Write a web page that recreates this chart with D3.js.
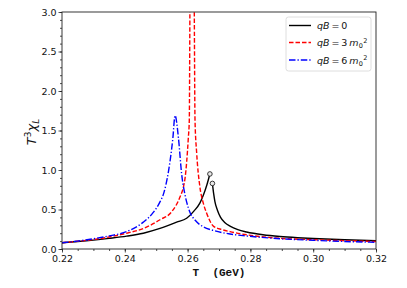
<!DOCTYPE html>
<html>
<head>
<meta charset="utf-8">
<script src="https://cdn.jsdelivr.net/npm/d3@7"></script>
<style>
  html, body { margin: 0; padding: 0; background: #fff; }
  svg { display: block; }
</style>
</head>
<body>
<svg id="chart" width="407" height="288"></svg>
<script>
// ---------- data ----------
const xTicks = [0.22, 0.24, 0.26, 0.28, 0.30, 0.32];
const yTicks = [0.0, 0.5, 1.0, 1.5, 2.0, 2.5, 3.0];

// qB = 0 : two branches (left ends / right starts at open circles)
const blackLeftT = [0.220, 0.225, 0.230, 0.235, 0.2406, 0.2459, 0.2512, 0.2565, 0.2597, 0.2620, 0.2639, 0.2650, 0.2662, 0.2671];
const blackLeftV = [0.080, 0.095, 0.113, 0.135, 0.163, 0.200, 0.260, 0.340, 0.390, 0.480, 0.580, 0.680, 0.820, 0.950];
const blackRightT = [0.2679, 0.2683, 0.2687, 0.2695, 0.2705, 0.2720, 0.2735, 0.2760, 0.2788, 0.2840, 0.2894, 0.2950, 0.3000, 0.3100, 0.3200];
const blackRightV = [0.830, 0.700, 0.600, 0.490, 0.400, 0.330, 0.290, 0.245, 0.215, 0.180, 0.158, 0.143, 0.133, 0.117, 0.105];

// qB = 3 m0^2 (diverges off the top)
const redT = [0.220, 0.225, 0.230, 0.235, 0.2406, 0.2459, 0.2512, 0.2549, 0.2576, 0.2587, 0.2592, 0.2597, 0.26022, 0.26054, 0.26076, 0.2615, 0.2621, 0.26236, 0.2629, 0.2639, 0.2650, 0.2661, 0.2682, 0.2710, 0.2735, 0.2788, 0.2850, 0.2894, 0.3000, 0.3100, 0.3200];
const redV = [0.080, 0.098, 0.120, 0.152, 0.200, 0.260, 0.370, 0.470, 0.660, 0.790, 0.900, 1.100, 1.400, 1.630, 3.200, 6.000, 3.200, 1.630, 1.210, 0.790, 0.580, 0.450, 0.290, 0.245, 0.220, 0.180, 0.150, 0.135, 0.118, 0.105, 0.095];

// qB = 6 m0^2
const blueT = [0.220, 0.225, 0.230, 0.235, 0.2406, 0.2459, 0.2490, 0.2510, 0.2525, 0.2539, 0.2553, 0.2560, 0.2571, 0.2581, 0.2590, 0.2598, 0.2608, 0.2625, 0.2650, 0.2682, 0.2735, 0.2788, 0.2894, 0.3000, 0.3100, 0.3200];
const blueV = [0.080, 0.100, 0.130, 0.165, 0.220, 0.340, 0.460, 0.580, 0.720, 0.980, 1.400, 1.690, 1.400, 0.950, 0.720, 0.580, 0.460, 0.360, 0.280, 0.235, 0.190, 0.165, 0.130, 0.110, 0.095, 0.085];

const markerT = [0.2671, 0.2679];
const markerV = [0.950, 0.830];

// ---------- layout ----------
const svg = d3.select("#chart");
const L = 62, R = 376, T = 12, B = 249;
const x = d3.scaleLinear().domain([0.22, 0.32]).range([L, R]);
const y = d3.scaleLinear().domain([0, 3]).range([B, T]);

const zip = (a, b) => a.map((t, i) => [t, b[i]]);

svg.append("defs").append("clipPath").attr("id", "clip")
  .append("rect").attr("x", L).attr("y", T).attr("width", R - L).attr("height", B - T);

const line = d3.line().x(d => x(d[0])).y(d => y(d[1])).curve(d3.curveMonotoneX);
const g = svg.append("g").attr("clip-path", "url(#clip)");

g.append("path").datum(zip(blackLeftT, blackLeftV)).attr("d", line)
  .attr("fill", "none").attr("stroke", "#000").attr("stroke-width", 1.4);
g.append("path").datum(zip(blackRightT, blackRightV)).attr("d", line)
  .attr("fill", "none").attr("stroke", "#000").attr("stroke-width", 1.4);
g.append("path").datum(zip(redT, redV)).attr("d", line)
  .attr("fill", "none").attr("stroke", "#ff0000").attr("stroke-width", 1.4)
  .attr("stroke-dasharray", "4.5,2");
g.append("path").datum(zip(blueT, blueV)).attr("d", line)
  .attr("fill", "none").attr("stroke", "#0000ff").attr("stroke-width", 1.4)
  .attr("stroke-dasharray", "6.5,2,1.3,2");

g.selectAll("circle.mk").data(zip(markerT, markerV)).enter().append("circle")
  .attr("class", "mk").attr("cx", d => x(d[0])).attr("cy", d => y(d[1]))
  .attr("r", 2.3).attr("fill", "#e8e8e8").attr("stroke", "#222").attr("stroke-width", 0.9);

// ---------- axes ----------
const tickFont = "DejaVu Sans";
const xMinor = d3.range(0, 21).map(i => 0.22 + i * 0.005);
const yMinor = d3.range(0, 31).map(i => i * 0.1);

svg.append("g").attr("transform", `translate(0,${B})`)
  .call(d3.axisBottom(x).tickValues(xMinor).tickSize(2).tickFormat(""))
  .call(a => a.select(".domain").remove());
svg.append("g").attr("transform", `translate(${L},0)`)
  .call(d3.axisLeft(y).tickValues(yMinor).tickSize(2).tickFormat(""))
  .call(a => a.select(".domain").remove());

const xa = svg.append("g").attr("transform", `translate(0,${B})`)
  .call(d3.axisBottom(x).tickValues(xTicks).tickSize(3.5).tickPadding(2.5).tickFormat(d3.format(".2f")));
xa.select(".domain").remove();
xa.selectAll("text").attr("font-family", tickFont).attr("font-size", 9.5).attr("fill", "#111");

const ya = svg.append("g").attr("transform", `translate(${L},0)`)
  .call(d3.axisLeft(y).tickValues(yTicks).tickSize(3.5).tickPadding(2).tickFormat(d3.format(".1f")));
ya.select(".domain").remove();
ya.selectAll("text").attr("font-family", tickFont).attr("font-size", 9.5).attr("fill", "#111");

svg.selectAll(".tick line").attr("stroke", "#222").attr("stroke-width", 0.8);

// frame
svg.append("rect").attr("x", L).attr("y", T).attr("width", R - L).attr("height", B - T)
  .attr("fill", "none").attr("stroke", "#222").attr("stroke-width", 0.9);

// x label
svg.append("text").attr("x", (L + R) / 2).attr("y", 276)
  .attr("text-anchor", "middle").attr("font-family", "Liberation Mono")
  .attr("font-weight", "bold").attr("font-size", 11).attr("fill", "#111")
  .style("white-space", "pre").text("T  (GeV)");

// y label  T^3 chi_L
const yl = svg.append("text").attr("transform", "translate(36,132) rotate(-90)")
  .attr("text-anchor", "middle").attr("font-family", "DejaVu Sans")
  .attr("font-size", 13).attr("fill", "#111");
yl.append("tspan").attr("font-style", "italic").text("T");
yl.append("tspan").attr("font-size", 9).attr("dy", -5).text("3");
yl.append("tspan").attr("font-style", "italic").attr("dy", 5).text("χ");
yl.append("tspan").attr("font-style", "italic").attr("font-size", 9).attr("dy", 3).text("L");

// ---------- legend ----------
const leg = svg.append("g");
leg.append("rect").attr("x", 286).attr("y", 17).attr("width", 85).attr("height", 54)
  .attr("rx", 2.5).attr("fill", "#fff").attr("fill-opacity", 0.85)
  .attr("stroke", "#d5d5d5").attr("stroke-width", 0.8);

const legendLabels = [
  { coef: null, stroke: "#000", dash: null },
  { coef: "3", stroke: "#ff0000", dash: "4.5,2" },
  { coef: "6", stroke: "#0000ff", dash: "6.5,2,1.3,2" }
];
const rowsY = [25.5, 42.5, 60];
legendLabels.forEach((e, i) => {
  const yy = rowsY[i];
  leg.append("line").attr("x1", 289).attr("x2", 311).attr("y1", yy).attr("y2", yy)
    .attr("stroke", e.stroke).attr("stroke-width", 1.4)
    .attr("stroke-dasharray", e.dash);
  const t = leg.append("text").attr("x", 317).attr("y", yy + 3.5)
    .attr("font-family", "DejaVu Sans").attr("font-size", 9.5).attr("fill", "#111");
  t.append("tspan").attr("font-style", "italic").text("qB");
  if (e.coef === null) {
    t.append("tspan").text("\u2009=\u20090");
  } else {
    t.append("tspan").text("\u2009=\u2009" + e.coef + "\u2009");
    t.append("tspan").attr("font-style", "italic").text("m");
    t.append("tspan").attr("font-size", 6.5).attr("dx", 0.3).attr("dy", 2.2).text("0");
    t.append("tspan").attr("font-size", 6.5).attr("dx", 0.2).attr("dy", -5.4).text("2");
  }
});
</script>
</body>
</html>
